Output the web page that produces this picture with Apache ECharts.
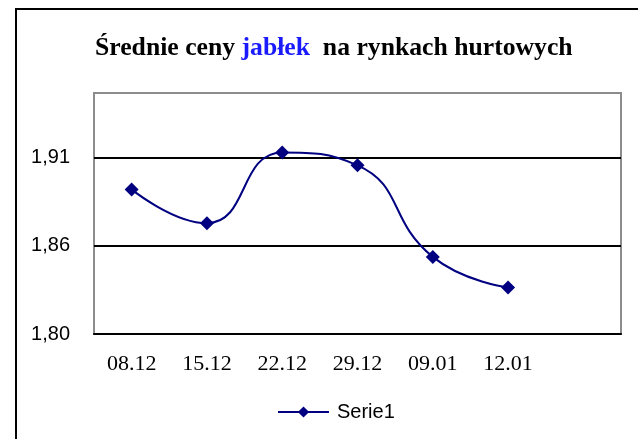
<!DOCTYPE html>
<html>
<head>
<meta charset="utf-8">
<script src="https://cdn.jsdelivr.net/npm/echarts@6/dist/echarts.min.js"></script>
<style>
html,body{margin:0;padding:0;background:#fff;}
#chart{width:638px;height:439px;}
</style>
</head>
<body>
<div id="chart"></div>
<script>
const categories = ['08.12', '15.12', '22.12', '29.12', '09.01', '12.01', ''];
const seriesName = 'Serie1';
const prices = [1.890, 1.869, 1.913, 1.905, 1.848, 1.829, null];
const yTickValues = [1.80, 1.855, 1.91];
const yTickLabels = ['1,80', '1,86', '1,91'];
const yMin = 1.80;
const yMax = 1.95;

const chart = echarts.init(document.getElementById('chart'));
chart.setOption({
  backgroundColor: '#fff',
  animation: false,
  graphic: [{
    type: 'rect',
    shape: {x: 16, y: 9, width: 700, height: 500},
    style: {fill: 'none', stroke: '#000', lineWidth: 2},
    silent: true
  }],
  title: {
    text: '{a|Średnie ceny }{b|jabłek}{a|  na rynkach hurtowych}',
    left: 95,
    top: 35,
    padding: 0,
    textStyle: {
      rich: {
        a: {fontFamily: 'Liberation Serif', fontWeight: 'bold', fontSize: 25.7, color: '#000'},
        b: {fontFamily: 'Liberation Serif', fontWeight: 'bold', fontSize: 25.7, color: '#1a1aff'}
      }
    }
  },
  grid: {
    left: 94, top: 93, right: 17, bottom: 105,
    show: true, borderColor: '#8c8c8c', borderWidth: 2, backgroundColor: '#fff'
  },
  legend: {
    data: [seriesName],
    left: 272,
    top: 397,
    itemWidth: 51,
    itemHeight: 14,
    itemGap: 10,
    textStyle: {fontFamily: 'Liberation Sans', fontSize: 20, color: '#000', padding: [0, 0, 0, 3]}
  },
  xAxis: {
    type: 'category',
    data: categories,
    boundaryGap: true,
    axisLine: {show: true, lineStyle: {color: '#000', width: 2}},
    axisTick: {show: false},
    axisLabel: {fontFamily: 'Liberation Serif', fontSize: 22, color: '#000', margin: 19}
  },
  yAxis: {
    type: 'value',
    min: yMin,
    max: yMax,
    axisLine: {show: false},
    axisTick: {show: false, customValues: yTickValues},
    axisLabel: {
      customValues: yTickValues,
      fontFamily: 'Liberation Sans', fontSize: 20, color: '#000', margin: 24,
      formatter: function (v) {
        let best = 0;
        for (let i = 1; i < yTickValues.length; i++) {
          if (Math.abs(yTickValues[i] - v) < Math.abs(yTickValues[best] - v)) best = i;
        }
        return yTickLabels[best];
      }
    },
    splitLine: {show: true, lineStyle: {color: '#000', width: 2}}
  },
  series: [{
    name: seriesName,
    type: 'line',
    data: prices,
    smooth: 0.5,
    symbol: 'diamond',
    symbolSize: 14,
    lineStyle: {color: '#000080', width: 2},
    itemStyle: {color: '#000080'},
    z: 5
  }]
});
</script>
</body>
</html>
